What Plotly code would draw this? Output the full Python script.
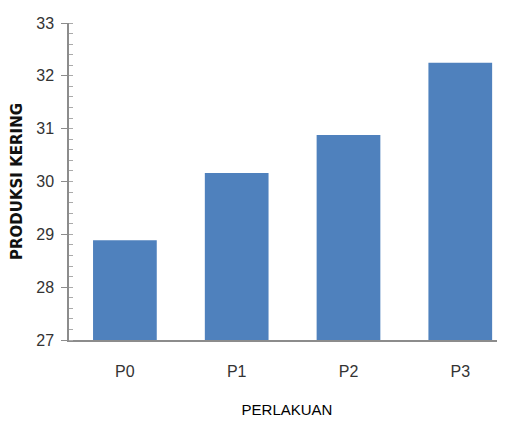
import plotly.graph_objects as go

categories = ["P0", "P1", "P2", "P3"]
values = [28.89, 30.16, 30.88, 32.25]
y_ticks = [27, 28, 29, 30, 31, 32, 33]

fig = go.Figure()
fig.add_trace(go.Bar(
    x=categories, y=values,
    marker=dict(color="#4F81BD", line=dict(width=0)),
    width=0.57,
))

tick_font = dict(family="Liberation Sans, Arial, sans-serif", size=16, color="#333333")

fig.update_layout(
    width=497, height=413,
    margin=dict(l=61, r=0, t=15, b=81),
    paper_bgcolor="white", plot_bgcolor="white",
    showlegend=False,
    xaxis=dict(
        range=[-0.5, 3.4],
        showline=True, linecolor="#8c8c8c", linewidth=1.5,
        showgrid=False, ticks="", zeroline=False,
        tickfont=tick_font,
        ticklabelstandoff=16,
        title=dict(text="PERLAKUAN", font=dict(family="Liberation Sans, Arial, sans-serif", size=15, color="#000000"), standoff=26),
    ),
    yaxis=dict(
        range=[27, 33],
        tickvals=y_ticks,
        showline=True, linecolor="#8c8c8c", linewidth=1.5,
        showgrid=False, zeroline=False,
        ticks="outside", ticklen=6, tickcolor="#8c8c8c", tickwidth=1,
        minor=dict(dtick=0.2, ticks="inside", ticklen=4, tickcolor="#aaaaaa", tickwidth=1),
        tickfont=tick_font,
        ticklabelstandoff=4,
        title=dict(text="<b>PRODUKSI KERING</b>", font=dict(family="DejaVu Sans, sans-serif", size=15, color="#111111"), standoff=12),
    ),
)

fig.write_html("out.html")
